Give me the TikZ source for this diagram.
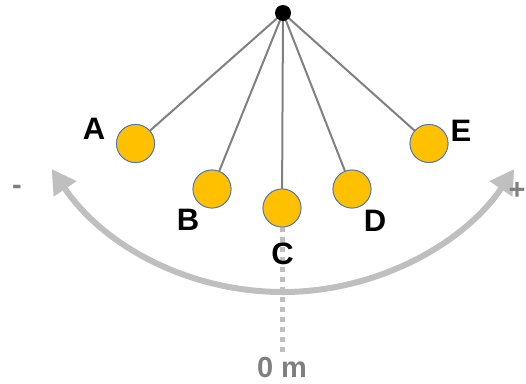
\documentclass[tikz,border=0pt]{standalone}
\usepackage{fontspec}
\setmainfont{Liberation Sans}
\usetikzlibrary{arrows.meta}
\definecolor{bobfill}  {HTML}{FFC000}
\definecolor{bobedge}  {HTML}{4472C4}
\definecolor{stringc}  {HTML}{808080}
\definecolor{swing}    {HTML}{BFBFBF}
\definecolor{markgray} {HTML}{7F7F7F}
\tikzset{
  bob/.style     ={circle, draw=bobedge, fill=bobfill, line width=0.8pt,
                   minimum size=38pt, inner sep=0pt},
  pivotdot/.style={circle, fill=black, minimum size=16pt, inner sep=0pt},
  thread/.style  ={draw=stringc, line width=2pt},
  lbl/.style     ={font=\fontsize{31}{34}\selectfont\bfseries, text=black, inner sep=0pt},
  glbl/.style    ={font=\fontsize{29}{32}\selectfont\bfseries, text=markgray, inner sep=0pt},
  swingarr/.style={{Triangle[length=24pt,width=26pt]}-{Triangle[length=24pt,width=26pt]},
                   line width=6pt, color=swing},
  zeroline/.style={line width=5pt, color=swing, dash pattern=on 5pt off 5pt},
}
\begin{document}
\begin{tikzpicture}[x=1pt,y=-1pt]
  \useasboundingbox (0,0) rectangle (526,383);
  \coordinate (p) at (283,13);

  % swing arc round the pivot
  \draw[swingarr] (p) ++(146:279) coordinate (swl)
    arc[start angle=146, end angle=34, radius=279];

  % rest line under C
  \coordinate (zero) at (282,352);
  \node[bob] (C) at (282,208) {};
  \draw[zeroline] (C.south) -- (zero);

  \node[bob] (A) at (135.5,143.5) {};
  \node[bob] (B) at (212,189) {};
  \node[bob] (D) at (352,189) {};
  \node[bob] (E) at (429,143.5) {};
  \foreach \b in {A,B,C,D,E}
    \draw[thread] (p) -- (\b);
  \node[pivotdot] (pd) at (p) {};
  \foreach \b in {A,B,C,D,E}
    \node[bob] at (\b) {};

  \node[lbl] (la) at (94,129) {A};
  \node[lbl] (lb) at (188,220) {B};
  \node[lbl] (lc) at (282.5,254) {C};
  \node[lbl] (ld) at (375,221) {D};
  \node[lbl] (le) at (461,131) {E};

  \node[glbl] (minus) at (17,190) {-};
  \node[glbl] (plus)  at (517,191) {+};
  \node[glbl] (zlbl)  at (282,368) {0 m};
\end{tikzpicture}
\end{document}
